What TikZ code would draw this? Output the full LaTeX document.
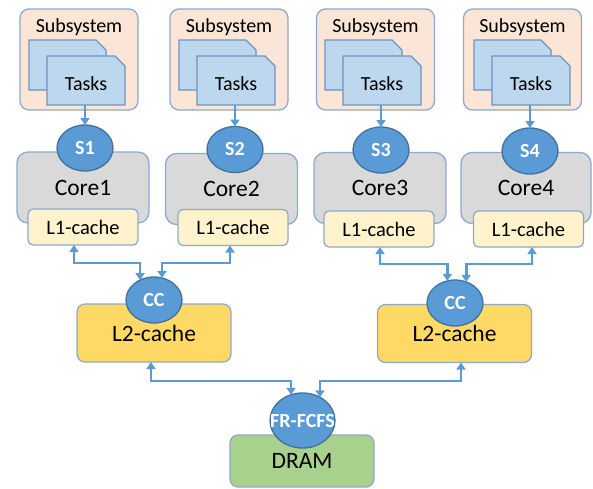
\documentclass[tikz,border=0pt]{standalone}
\usepackage{fontspec}
\setmainfont{Carlito}
\usetikzlibrary{arrows.meta,shapes.geometric}
\definecolor{subfill}{HTML}{FBE5D6}
\definecolor{bord}{HTML}{8FA9CC}
\definecolor{taskfill}{HTML}{BDD7EE}
\definecolor{taskbord}{HTML}{6F93C0}
\definecolor{ellfill}{HTML}{5B9BD5}
\definecolor{ellbord}{HTML}{41719C}
\definecolor{corefill}{HTML}{D9D9D9}
\definecolor{lonefill}{HTML}{FFF2CC}
\definecolor{ltwofill}{HTML}{FFD966}
\definecolor{dramfill}{HTML}{A9D18E}
\definecolor{arrc}{HTML}{5B9BD5}
\tikzset{
  anybox/.style={draw=bord, line width=1.3pt, inner sep=0pt, outer sep=0pt},
  subbox/.style={anybox, fill=subfill, rounded corners=9pt, minimum width=118pt, minimum height=101pt},
  docshape/.style={draw=taskbord, fill=taskfill, line width=1.2pt},
  lbl/.style={inner sep=0pt, outer sep=0pt, anchor=base, font=\fontsize{20}{22}\selectfont},
  corebox/.style={anybox, fill=corefill, rounded corners=11pt, minimum width=132pt, minimum height=71pt, font=\fontsize{23.5}{26}\selectfont},
  lonebox/.style={anybox, fill=lonefill, rounded corners=5pt, minimum width=110pt, minimum height=36pt, font=\fontsize{20.5}{24}\selectfont},
  ltwobox/.style={anybox, fill=ltwofill, rounded corners=8pt, minimum width=154pt, minimum height=58pt, font=\fontsize{23.5}{26}\selectfont},
  drambox/.style={anybox, fill=dramfill, rounded corners=8pt, minimum width=144pt, minimum height=52pt, font=\fontsize{23.5}{26}\selectfont},
  ell/.style={ellipse, draw=ellbord, fill=ellfill, line width=1.3pt, minimum width=56pt, minimum height=46pt, inner sep=0pt, outer sep=0pt, text=white, font=\fontsize{20}{22}\selectfont\bfseries},
  elltxt/.style={inner sep=0pt, text=white, font=\fontsize{20}{22}\selectfont\bfseries},
  dbl/.style={draw=arrc, line width=2.6pt, {Triangle[length=7pt,width=9pt]}-{Triangle[length=7pt,width=9pt]}},
  sgl/.style={draw=arrc, line width=2.6pt, -{Triangle[length=7pt,width=9pt]}},
}
\begin{document}
\begin{tikzpicture}[x=1pt,y=-1pt]
\useasboundingbox (0,0) rectangle (593,488);

% subsystems with task documents
\foreach \i/\scx/\fx in {1/79/47, 2/229/197, 3/375.5/343, 4/522.5/492}{
  \node[subbox] (sub\i) at (\scx,59.5) {};
  \node[lbl] (subt\i) at (\scx,32) {Subsystem};
  \draw[docshape] ({\fx-18},40) -- ({\fx+49},40) -- ({\fx+59},50) -- ({\fx+59},90) -- ({\fx-18},90) -- cycle;
  \draw[docshape] (\fx,56) -- ({\fx+68},56) -- ({\fx+78},66) -- ({\fx+78},105) -- (\fx,105) -- cycle;
  \node[lbl] (task\i) at ({\fx+39},90) {Tasks};
  \coordinate (d\i) at ({\fx+39},105);
}

% cores
\node[corebox] (core1) at (83,187.5) {Core1};
\node[corebox] (core2) at (231.5,189) {Core2};
\node[corebox] (core3) at (380,188) {Core3};
\node[corebox, minimum width=130pt] (core4) at (526,188) {Core4};

% L1 caches
\node[lonebox] (l1a) at (83,227) {L1-cache};
\node[lonebox] (l1b) at (233,227.5) {L1-cache};
\node[lonebox] (l1c) at (379,229) {L1-cache};
\node[lonebox] (l1d) at (528.5,229) {L1-cache};

% schedulers
\node[ell] (s1) at (85,148) {S1};
\node[ell] (s2) at (235,149.5) {S2};
\node[ell] (s3) at (381,150) {S3};
\node[ell] (s4) at (530,151) {S4};

% L2 caches
\node[ltwobox] (l2a) at (154,333) {L2-cache};
\node[ltwobox] (l2b) at (454.5,333.5) {L2-cache};
\node[ell] (cc1) at (154,300) {CC};
\node[ell] (cc2) at (455,303) {CC};

% DRAM
\node[drambox] (dram) at (302,461) {DRAM};
\node[ell, minimum width=65pt, minimum height=55pt] (fr) at (302.5,420.5) {};
\node[elltxt] (frt) at (fr.center) {FR-FCFS};

% task arrows
\foreach \i in {1,2,3,4}{
  \draw[sgl] (s\i.north |- d\i) -- (s\i.north);
}

% L1 <-> CC
\draw[dbl] (l1a.south -| 74,0) |- (cc1.125 |- 0,263) -- (cc1.125);
\draw[dbl] (l1b.south -| 230,0) |- (cc1.70 |- 0,263) -- (cc1.70);
\draw[dbl] (l1c.south -| 380,0) |- (cc2.109 |- 0,264) -- (cc2.109);
\draw[dbl] (l1d.south -| 532,0) |- (cc2.62 |- 0,264) -- (cc2.62);

% L2 <-> FR-FCFS
\draw[dbl] (l2a.south -| 151,0) |- (fr.114 |- 0,381) -- (fr.114);
\draw[dbl] (l2b.south -| 461,0) |- (fr.53 |- 0,381) -- (fr.53);
\end{tikzpicture}
\end{document}
